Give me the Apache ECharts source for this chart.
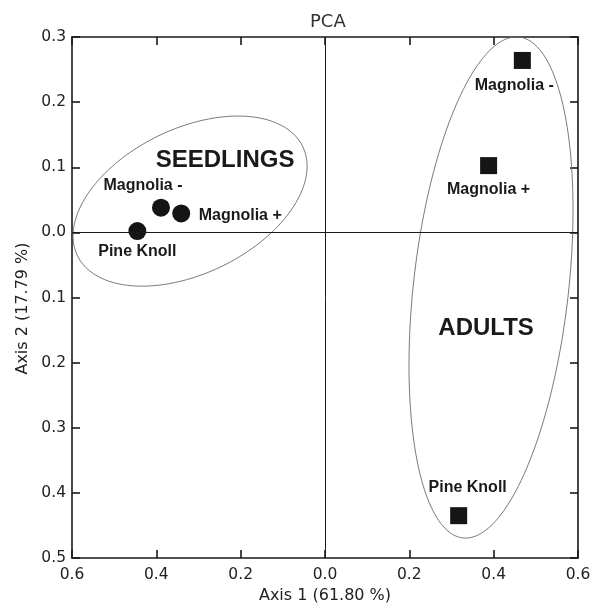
<!DOCTYPE html>
<html>
<head>
<meta charset="utf-8">
<script src="https://cdn.jsdelivr.net/npm/echarts@6/dist/echarts.min.js"></script>
<style>html,body{margin:0;padding:0;background:#fff}#c{width:601px;height:605px}</style>
</head>
<body>
<div id="c"></div>
<script>
// ---- data ----
const seedlingNames = ['Pine Knoll', 'Magnolia -', 'Magnolia +'];
const seedlingX = [-0.445, -0.389, -0.341];
const seedlingY = [0.002, 0.038, 0.029];

const adultNames = ['Magnolia -', 'Magnolia +', 'Pine Knoll'];
const adultX = [0.468, 0.388, 0.317];
const adultY = [0.264, 0.1025, -0.435];

const groupNames = ['SEEDLINGS', 'ADULTS'];
const groupX = [-0.237, 0.382];
const groupY = [0.111, -0.147];

// ellipse: centre x, centre y, half-width, half-height, correlation (data units)
const seedlingEllipse = [-0.320, 0.048, 0.2775, 0.1306, 0.41];
const adultEllipse = [0.3937, -0.0846, 0.1945, 0.3848, 0.31];

const xTicks = [-0.6, -0.4, -0.2, 0.0, 0.2, 0.4, 0.6];
const yTicks = [0.3, 0.2, 0.1, 0.0, -0.1, -0.2, -0.3, -0.4, -0.5];

// ---- build chart ----
const labelOffsets = {
  seed: [[0, 21], [-18, -22], [59, 2]],
  adult: [[-8, 25], [0, 24], [9, -28]]
};
const ptLabel = {
  show: true, position: 'inside', fontFamily: 'Liberation Sans, Arial, sans-serif',
  fontWeight: 'bold', fontSize: 16, color: '#1a1a1a', formatter: p => p.name
};
function pts(names, xs, ys, offs) {
  return names.map((n, i) => ({
    name: n, value: [xs[i], ys[i]],
    label: Object.assign({}, ptLabel, { offset: offs[i] })
  }));
}
function ellipseRender(params, api) {
  const cx = api.value(0), cy = api.value(1), hx = api.value(2), hy = api.value(3), r = api.value(4);
  const s = Math.sqrt(1 - r * r);
  const points = [];
  for (let k = 0; k <= 200; k++) {
    const t = k / 200 * Math.PI * 2;
    points.push(api.coord([cx + hx * Math.cos(t), cy + hy * (r * Math.cos(t) + s * Math.sin(t))]));
  }
  return { type: 'polyline', shape: { points }, style: { fill: 'none', stroke: '#6a6a6a', lineWidth: 0.9 } };
}
const fmt = v => Math.abs(v).toFixed(1);
const axisLine = { show: true, onZero: false, lineStyle: { color: '#1a1a1a', width: 1.6 } };
const axisTick = { show: true, inside: true, length: 8, lineStyle: { color: '#1a1a1a', width: 1.6 } };
const tickFont = { fontFamily: 'DejaVu Sans', fontSize: 15.5, color: '#222' };

const chart = echarts.init(document.getElementById('c'), null, { renderer: 'canvas' });
chart.setOption({
  animation: false,
  backgroundColor: '#fff',
  title: {
    text: 'PCA', left: 305, top: 8,
    textStyle: { fontFamily: 'DejaVu Sans', fontSize: 18, fontWeight: 'normal', color: '#333' }
  },
  grid: { left: 72, right: 23, top: 37, bottom: 47, outerBoundsMode: 'none', containLabel: false },
  xAxis: [
    {
      type: 'value', position: 'bottom', min: xTicks[0], max: xTicks[xTicks.length - 1], interval: 0.2,
      axisLine, axisTick, splitLine: { show: false },
      axisLabel: Object.assign({ formatter: fmt, margin: 9 }, tickFont),
      name: 'Axis 1 (61.80 %)', nameLocation: 'middle', nameGap: 28,
      nameTextStyle: { fontFamily: 'DejaVu Sans', fontSize: 16, color: '#222' }
    },
    {
      type: 'value', position: 'top', min: xTicks[0], max: xTicks[xTicks.length - 1], interval: 0.2,
      axisLine, axisTick, splitLine: { show: false }, axisLabel: { show: false }
    }
  ],
  yAxis: [
    {
      type: 'value', position: 'left', min: yTicks[yTicks.length - 1], max: yTicks[0], interval: 0.1,
      axisLine, axisTick, splitLine: { show: false },
      axisLabel: Object.assign({ formatter: fmt, margin: 6 }, tickFont),
      name: 'Axis 2 (17.79 %)', nameLocation: 'middle', nameGap: 39,
      nameTextStyle: { fontFamily: 'DejaVu Sans', fontSize: 16, color: '#222', padding: [0, 22, 0, 0] }
    },
    {
      type: 'value', position: 'right', min: yTicks[yTicks.length - 1], max: yTicks[0], interval: 0.1,
      axisLine, axisTick, splitLine: { show: false }, axisLabel: { show: false }
    }
  ],
  series: [
    {
      type: 'custom', renderItem: ellipseRender, silent: true,
      data: [seedlingEllipse, adultEllipse], encode: { x: 0, y: 1 }, z: 1
    },
    {
      type: 'scatter', symbol: 'circle', symbolSize: 18, itemStyle: { color: '#151515', opacity: 1 },
      data: pts(seedlingNames, seedlingX, seedlingY, labelOffsets.seed), z: 3,
      markLine: {
        silent: true, symbol: 'none', label: { show: false },
        lineStyle: { color: '#1a1a1a', width: 1, type: 'solid' },
        data: [{ xAxis: 0 }, { yAxis: 0 }]
      }
    },
    {
      type: 'scatter', symbol: 'rect', symbolSize: 17, itemStyle: { color: '#151515', opacity: 1 },
      data: pts(adultNames, adultX, adultY, labelOffsets.adult), z: 3
    },
    {
      type: 'scatter', symbolSize: 0, silent: true, itemStyle: { opacity: 1 },
      data: groupNames.map((n, i) => ({ name: n, value: [groupX[i], groupY[i]] })),
      label: {
        show: true, position: 'inside', formatter: p => p.name,
        fontFamily: 'Liberation Sans, Arial, sans-serif', fontWeight: 'bold', fontSize: 24, color: '#1a1a1a'
      }
    }
  ]
});
</script>
</body>
</html>
